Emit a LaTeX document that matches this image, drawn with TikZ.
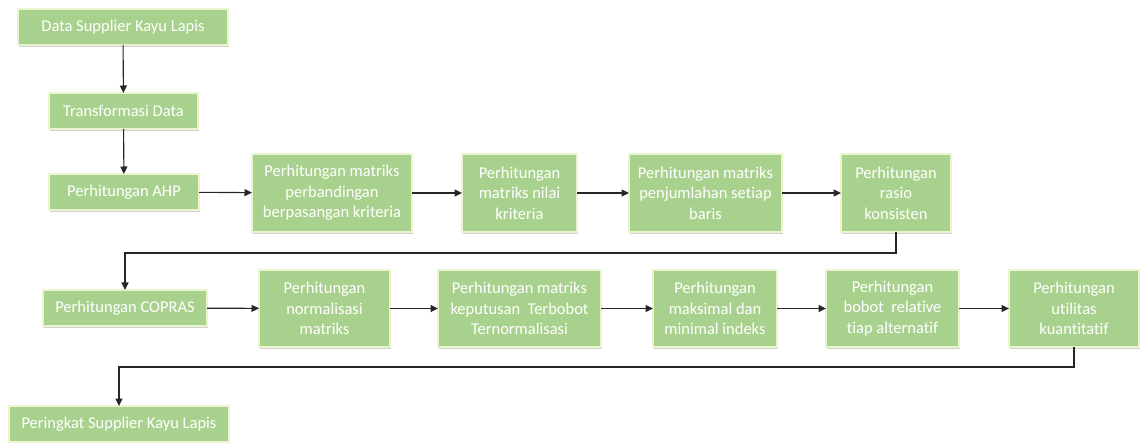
\documentclass[tikz,border=0pt]{standalone}
\usepackage{fontspec}
\setmainfont[Ligatures=NoCommon]{Carlito}
\usepackage{tikz}
\usetikzlibrary{arrows.meta,shadows}

\definecolor{boxgreen}{HTML}{A9D18E}
\definecolor{rimgreen}{HTML}{EAF5CF}

\begin{document}
\begin{tikzpicture}[x=1pt, y=-1pt,
    stage/.style={rectangle, fill=boxgreen, draw=rimgreen, line width=2.4pt,
        text=white, align=center, inner sep=1pt, outer sep=0pt,
        font=\fontsize{16.5}{20.5}\selectfont,
        drop shadow={shadow xshift=1.2pt, shadow yshift=-2pt, opacity=0.3, fill=black!60}},
    flow/.style={draw=black!85, line width=1.1pt, -{Triangle[length=7.5pt,width=7pt]}}]
        \useasboundingbox (0,0) rectangle (1142,443);

        % AHP
        \node[stage, minimum width=210pt, minimum height=36pt] (data) at (123,27) {Data Supplier Kayu Lapis};
        \node[stage, minimum width=149pt, minimum height=36pt] (trans) at (123.5,111) {Transformasi Data};
        \node[stage, minimum width=150pt, minimum height=36pt] (ahp) at (124,192) {Perhitungan AHP};
        \node[stage, minimum width=160pt, minimum height=78pt] (banding) at (332,193) {Perhitungan matriks\\perbandingan\\berpasangan kriteria};
        \node[stage, minimum width=115pt, minimum height=78pt] (nilai) at (519.5,193) {Perhitungan\\matriks nilai\\kriteria};
        \node[stage, minimum width=153pt, minimum height=78pt] (jumlah) at (705.5,193) {Perhitungan matriks\\penjumlahan setiap\\baris};
        \node[stage, minimum width=110pt, minimum height=78pt] (rasio) at (896,193) {Perhitungan\\rasio\\konsisten};

        % COPRAS
        \node[stage, minimum width=164pt, minimum height=36pt] (copras) at (125,308) {Perhitungan COPRAS};
        \node[stage, minimum width=131pt, minimum height=77pt] (normal) at (324.5,308.5) {Perhitungan\\normalisasi\\matriks};
        \node[stage, minimum width=163pt, minimum height=77pt] (bobot) at (519.5,308.5) {Perhitungan matriks\\keputusan~ Terbobot\\Ternormalisasi};
        \node[stage, minimum width=124pt, minimum height=77pt] (indeks) at (715,308.5) {Perhitungan\\maksimal dan\\minimal indeks};
        \node[stage, minimum width=133pt, minimum height=77pt] (relatif) at (892.5,308.5) {Perhitungan\\bobot~ relative\\tiap alternatif};
        \node[stage, minimum width=130pt, minimum height=77pt] (utilitas) at (1074,308.5) {Perhitungan\\utilitas\\kuantitatif};

        \node[stage, minimum width=220pt, minimum height=36pt] (peringkat) at (119,424) {Peringkat Supplier Kayu Lapis};

        \draw[flow] (data) -- (trans);
        \draw[flow] (trans) -- (ahp);
        \draw[flow] (ahp) -- (banding);
        \draw[flow] (banding) -- (nilai);
        \draw[flow] (nilai) -- (jumlah);
        \draw[flow] (jumlah) -- (rasio);
        \draw[flow] (rasio.south) -- ++(0,21) -| (copras.north);
        \draw[flow] (copras) -- (normal);
        \draw[flow] (normal) -- (bobot);
        \draw[flow] (bobot) -- (indeks);
        \draw[flow] (indeks) -- (relatif);
        \draw[flow] (relatif) -- (utilitas);
        \draw[flow] (utilitas.south) -- ++(0,20) -| (peringkat.north);
    \end{tikzpicture}
\end{document}
